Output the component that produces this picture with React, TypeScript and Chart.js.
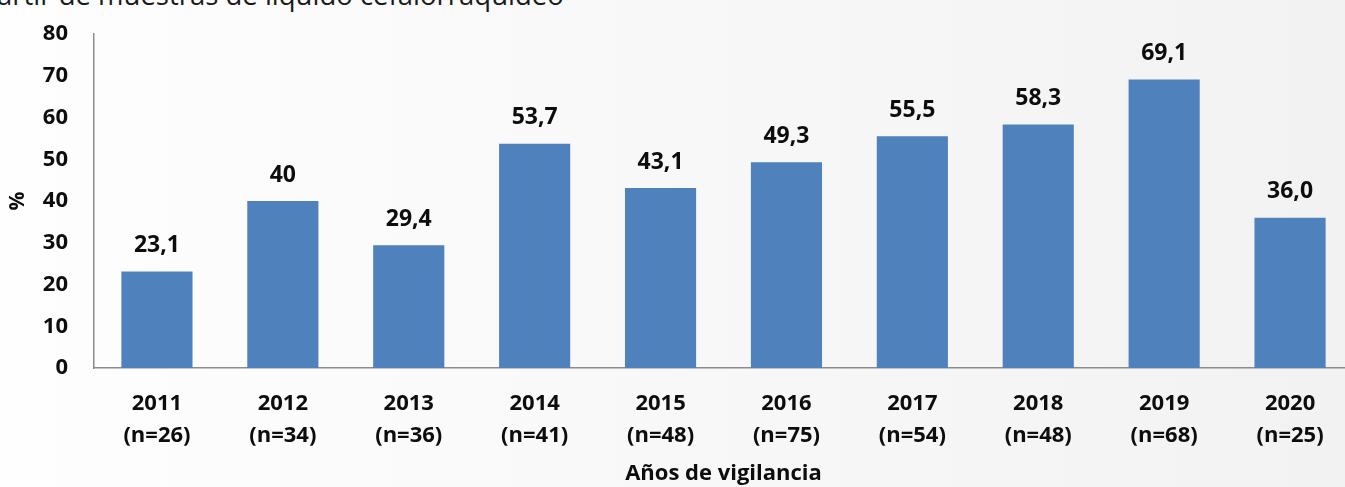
import React, { useEffect, useRef } from "react";
import { Chart, registerables } from "chart.js";

Chart.register(...registerables);

const years = ["2011", "2012", "2013", "2014", "2015", "2016", "2017", "2018", "2019", "2020"];
const sampleSizes = ["(n=26)", "(n=34)", "(n=36)", "(n=41)", "(n=48)", "(n=75)", "(n=54)", "(n=48)", "(n=68)", "(n=25)"];
const positivity = [23.1, 40, 29.4, 53.7, 43.1, 49.3, 55.5, 58.3, 69.1, 36.0];
const valueLabels = ["23,1", "40", "29,4", "53,7", "43,1", "49,3", "55,5", "58,3", "69,1", "36,0"];
const yMin = 0;
const yMax = 80;
const yStep = 10;
const xTitle = "Años de vigilancia";
const yTitle = "%";
const topText = "artir de muestras de líquido cefalorraquídeo";

const FONT = "'Open Sans', 'DejaVu Sans', sans-serif";
const TEXT = "#0d0d0d";
const AXIS = "#8c8c8c";
const BAR = "#4f81bd";

const valueLabelPlugin = {
  id: "valueLabels",
  afterDatasetsDraw(chart: any) {
    const ctx = chart.ctx;
    const meta = chart.getDatasetMeta(0);
    ctx.save();
    ctx.font = `bold 23px ${FONT}`;
    ctx.fillStyle = TEXT;
    ctx.textAlign = "center";
    ctx.textBaseline = "middle";
    meta.data.forEach((bar: any, i: number) => {
      ctx.fillText(valueLabels[i], bar.x, bar.y - 26);
    });
    ctx.restore();
  },
};

export default function App() {
  const canvasRef = useRef<HTMLCanvasElement | null>(null);

  useEffect(() => {
    if (!canvasRef.current) return;
    const chart = new Chart(canvasRef.current, {
      type: "bar",
      data: {
        labels: years.map((y, i) => [y, sampleSizes[i]]),
        datasets: [
          {
            data: positivity,
            backgroundColor: BAR,
            borderWidth: 0,
            barPercentage: 0.565,
            categoryPercentage: 1,
          },
        ],
      },
      options: {
        responsive: false,
        animation: false,
        layout: { padding: { top: 34, left: 0, right: 0, bottom: 0 } },
        plugins: {
          legend: { display: false },
          tooltip: { enabled: false },
        },
        scales: {
          x: {
            grid: { display: false, drawTicks: false },
            border: { display: true, color: AXIS, width: 1.5 },
            ticks: {
              padding: 20,
              autoSkip: false,
              maxRotation: 0,
              color: TEXT,
              font: { family: FONT, size: 22, weight: "bold", lineHeight: 32 / 22 },
            },
            title: {
              display: true,
              text: xTitle,
              color: TEXT,
              padding: { top: 0, bottom: 0 },
              font: { family: FONT, size: 22, weight: "bold" },
            },
            afterFit: (s: any) => {
              s.height = 119;
            },
          },
          y: {
            min: yMin,
            max: yMax,
            grid: { display: false, drawTicks: true, tickLength: 20 },
            border: { display: true, color: AXIS, width: 1.5 },
            ticks: {
              stepSize: yStep,
              padding: 6,
              color: TEXT,
              font: { family: FONT, size: 22, weight: "bold" },
            },
            title: {
              display: true,
              text: yTitle,
              color: TEXT,
              padding: { top: 5, bottom: 0 },
              font: { family: FONT, size: 21, weight: "bold" },
            },
            afterFit: (s: any) => {
              s.width = 94;
            },
          },
        },
      },
      plugins: [valueLabelPlugin],
    });
    return () => chart.destroy();
  }, []);

  return (
    <div
      style={{
        position: "fixed",
        left: 0,
        top: 0,
        width: 1345,
        height: 487,
        overflow: "hidden",
        background: "linear-gradient(to right, #fefefe, #f2f2f2)",
      }}
    >
      <div
        style={{
          position: "absolute",
          left: -3,
          top: -21,
          fontFamily: FONT,
          fontSize: 27.5,
          lineHeight: "32px",
          color: "#1a1a1a",
          whiteSpace: "nowrap",
        }}
      >
        {topText}
      </div>
      <canvas
        ref={canvasRef}
        width={1353}
        height={487}
        style={{ position: "absolute", left: 0, top: 0, width: 1353, height: 487 }}
      />
    </div>
  );
}
